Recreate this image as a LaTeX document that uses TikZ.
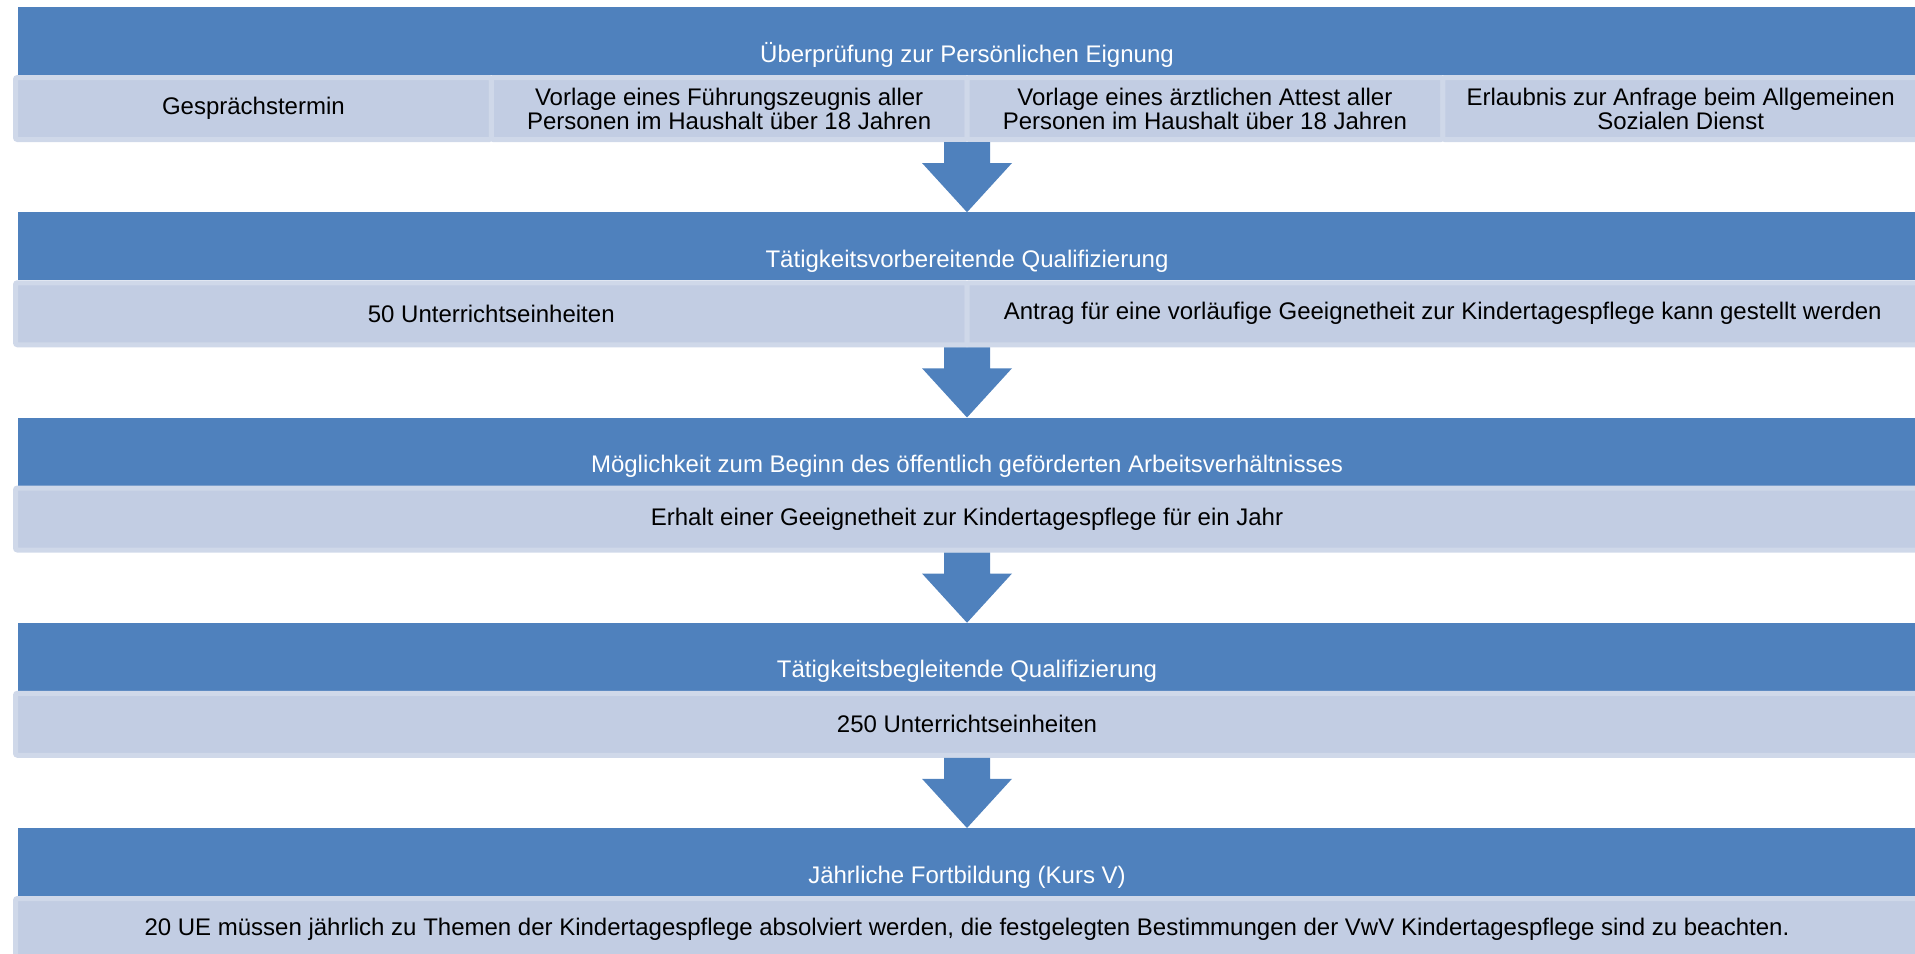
\documentclass[tikz,border=0pt]{standalone}
\usepackage{fontspec}
\setmainfont{Liberation Sans}
\usetikzlibrary{positioning}
\definecolor{bandblue}{RGB}{79,129,189}
\definecolor{cellfill}{RGB}{194,205,227}
\definecolor{cellline}{RGB}{207,216,233}
\tikzset{stageband/.style={rectangle,draw=none,fill=bandblue,text=white,
inner sep=0pt,outer sep=0pt,minimum height=34pt, minimum width=949pt,
text height=21pt,text depth=0pt,font=\fontsize{12pt}{12pt}\selectfont}}
\tikzset{stagecell/.style={rectangle,draw=cellline,fill=cellfill,line width=2.5pt,
rounded corners=1pt,inner sep=2pt,minimum height=31pt,align=center,
font=\fontsize{12pt}{12pt}\selectfont}}
\tikzset{flowarrow/.style={draw=none,fill=bandblue}}

\begin{document}
\begin{tikzpicture}[x=0.5pt,y=-0.5pt]
        \useasboundingbox (0,0) rectangle (1915,953);

        \node[stageband] (bandA) at (967, 41) {Überprüfung zur Persönlichen Eignung};
        \node[stagecell, minimum width=237.875pt] (cellA1) [below right=0pt and -2.5pt of bandA.south west] {Gesprächstermin};
        \node[stagecell, minimum width=237.875pt] (cellA2) [right=-2.5pt of cellA1] {Vorlage eines Führungszeugnis aller\\Personen im Haushalt über 18 Jahren};
        \node[stagecell, minimum width=237.875pt] (cellA3) [right=-2.5pt of cellA2] {Vorlage eines ärztlichen Attest aller\\Personen im Haushalt über 18 Jahren};
        \node[stagecell, minimum width=237.875pt] (cellA4) [right=-2.5pt of cellA3] {Erlaubnis zur Anfrage beim Allgemeinen\\Sozialen Dienst};

        \node[stageband] (bandB) at (967, 246.25) {Tätigkeitsvorbereitende Qualifizierung};
        \node[stagecell, minimum width=475.75pt] (cellB1) [below right=0pt and -2.5pt of bandB.south west] {50 Unterrichtseinheiten};
        \node[stagecell, minimum width=475.75pt] (cellB2) [right=-2.5pt of cellB1] {Antrag für eine vorläufige Geeignetheit zur Kindertagespflege kann gestellt werden};

        \node[stageband] (bandC) at (967, 451.5) {Möglichkeit zum Beginn des öffentlich geförderten Arbeitsverhältnisses};
        \node[stagecell, minimum width=951.5pt] (cellC1) [below right=0pt and -2.5pt of bandC.south west] {Erhalt einer Geeignetheit zur Kindertagespflege für ein Jahr};

        \node[stageband] (bandD) at (967, 656.75) {Tätigkeitsbegleitende Qualifizierung};
        \node[stagecell, minimum width=951.5pt] (cellD1) [below right=0pt and -2.5pt of bandD.south west] {250 Unterrichtseinheiten};

        \node[stageband] (bandE) at (967, 862) {Jährliche Fortbildung (Kurs V)};
        \node[stagecell, minimum width=951.5pt] (cellE1) [below right=0pt and -2.5pt of bandE.south west] {20 UE müssen jährlich zu Themen der Kindertagespflege absolviert werden, die festgelegten Bestimmungen der VwV Kindertagespflege sind zu beachten.};

        \coordinate (arrowA) at (bandA.south |- cellA1.south);
        \fill[flowarrow] ([xshift=-11.5pt]arrowA) -- ++(0,21) -- ++(-22,0) -- (bandB.north) -- ([xshift=22.5pt,yshift=-10.5pt]arrowA) -- ++(-22,0) -- ++(0,-21) -- cycle;

        \coordinate (arrowB) at (bandB.south |- cellB1.south);
        \fill[flowarrow] ([xshift=-11.5pt]arrowB) -- ++(0,21) -- ++(-22,0) -- (bandC.north) -- ([xshift=22.5pt,yshift=-10.5pt]arrowB) -- ++(-22,0) -- ++(0,-21) -- cycle;

        \coordinate (arrowC) at (bandC.south |- cellC1.south);
        \fill[flowarrow] ([xshift=-11.5pt]arrowC) -- ++(0,21) -- ++(-22,0) -- (bandD.north) -- ([xshift=22.5pt,yshift=-10.5pt]arrowC) -- ++(-22,0) -- ++(0,-21) -- cycle;

        \coordinate (arrowD) at (bandD.south |- cellD1.south);
        \fill[flowarrow] ([xshift=-11.5pt]arrowD) -- ++(0,21) -- ++(-22,0) -- (bandE.north) -- ([xshift=22.5pt,yshift=-10.5pt]arrowD) -- ++(-22,0) -- ++(0,-21) -- cycle;

\end{tikzpicture}
\end{document}
